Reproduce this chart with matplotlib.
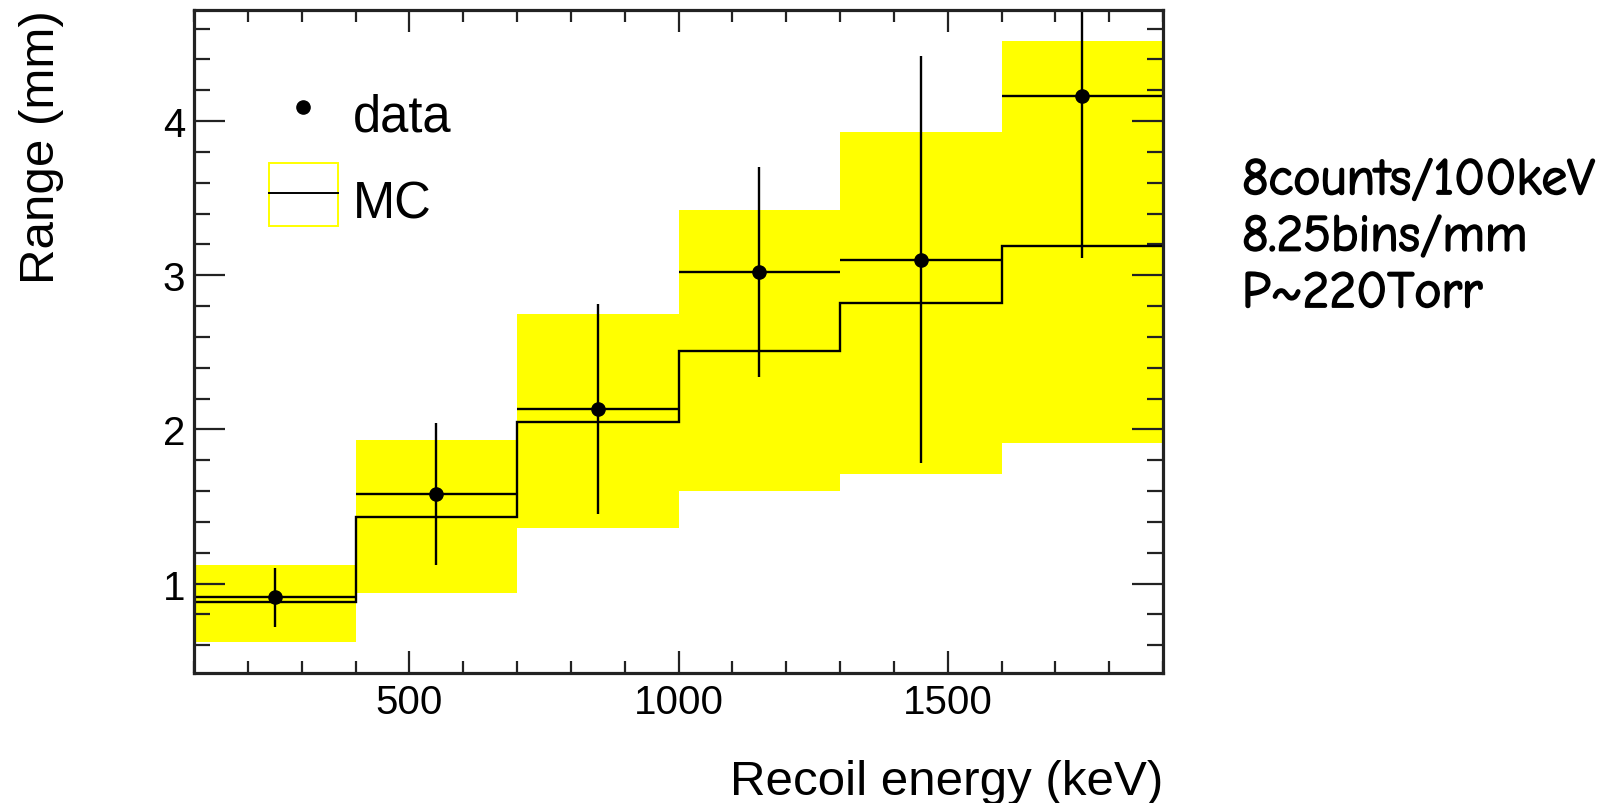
import numpy as np
import matplotlib
matplotlib.use("Agg")
import matplotlib.pyplot as plt
import matplotlib.patheffects as pe
from matplotlib.patches import Rectangle
from matplotlib.lines import Line2D
from matplotlib.ticker import MultipleLocator

# Recoil energy bins (keV)
bin_edges = [100, 400, 700, 1000, 1300, 1600, 1900]
bin_centers = [250, 550, 850, 1150, 1450, 1750]
bin_half_width = [150, 150, 150, 150, 150, 150]

# Measured range (mm) with uncertainties
data_range = [0.91, 1.58, 2.13, 3.02, 3.10, 4.16]
data_err = [0.19, 0.46, 0.68, 0.68, 1.32, 1.05]

# Simulated range (mm): central value and uncertainty band
mc_range = [0.88, 1.43, 2.05, 2.51, 2.82, 3.19]
mc_band_low = [0.62, 0.94, 1.36, 1.60, 1.71, 1.91]
mc_band_high = [1.12, 1.93, 2.75, 3.42, 3.93, 4.52]

annotation_lines = ["8counts/100keV", "8.25bins/mm", "P~220Torr"]

plt.rcParams["font.family"] = ["Liberation Sans", "DejaVu Sans"]

W, H = 1622, 804
fig = plt.figure(figsize=(W / 100, H / 100), dpi=100)
ax_l, ax_r, ax_t, ax_b = 194, 1163, 11, 674
ax = fig.add_axes([ax_l / W, 1 - ax_b / H, (ax_r - ax_l) / W, (ax_b - ax_t) / H])

YELLOW = "#ffff00"

# MC uncertainty band and central histogram
ax.stairs(mc_band_high, bin_edges, baseline=mc_band_low, fill=True,
          color=YELLOW, linewidth=0, zorder=1)
ax.stairs(mc_range, bin_edges, baseline=None, color="black",
          linewidth=1.7, zorder=2)

# Data points
ax.errorbar(bin_centers, data_range, xerr=bin_half_width, yerr=data_err,
            fmt="o", color="black", ms=9.5, elinewidth=1.7, capsize=0,
            zorder=3)

ax.set_xlim(100, 1900)
ax.set_ylim(0.42, 4.72)

ax.xaxis.set_major_locator(MultipleLocator(500))
ax.xaxis.set_minor_locator(MultipleLocator(100))
ax.yaxis.set_major_locator(MultipleLocator(1))
ax.yaxis.set_minor_locator(MultipleLocator(0.2))

ax.tick_params(axis="both", which="both", direction="in", top=True,
               right=True, width=1.6, color="#222222")
ax.tick_params(axis="x", which="major", length=15.8, labelsize=29, pad=7)
ax.tick_params(axis="x", which="minor", length=8.6)
ax.tick_params(axis="y", which="major", length=22, labelsize=29, pad=6.5)
ax.tick_params(axis="y", which="minor", length=11.3)
for s in ax.spines.values():
    s.set_linewidth(2.3)
    s.set_color("#222222")
    s.set_zorder(5)

# Axis titles, right-aligned at the axis ends
fig.text(ax_r / W, 1 - 795 / H, "Recoil energy (keV)", ha="right",
         va="baseline", fontsize=35.5)
fig.text(19 / W, 1 - 10 / H, "Range (mm)", rotation=90, ha="left",
         va="top", fontsize=35.5)

# Legend keys
axw, axh = ax_r - ax_l, ax_b - ax_t
def ax_xy(px, py):
    return (px - ax_l) / axw, (ax_b - py) / axh

mx, my = ax_xy(303, 108)
ax.add_line(Line2D([mx], [my], marker="o", ms=9.5, color="black",
                   transform=ax.transAxes, clip_on=False))
tx, ty = ax_xy(353, 131.5)
ax.text(tx, ty, "data", transform=ax.transAxes, fontsize=36.5,
        va="baseline", ha="left")

bx0, by0 = ax_xy(269, 227)
bx1, by1 = ax_xy(338, 164)
ax.add_patch(Rectangle((bx0, by0), bx1 - bx0, by1 - by0, fill=False,
                       edgecolor=YELLOW, linewidth=1.4,
                       transform=ax.transAxes))
lx0, ly = ax_xy(269, 194)
lx1, _ = ax_xy(338, 194)
ax.add_line(Line2D([lx0, lx1], [ly, ly], color="black", linewidth=1.4,
                   transform=ax.transAxes))
tx, ty = ax_xy(353, 218.5)
ax.text(tx, ty, "MC", transform=ax.transAxes, fontsize=36.5,
        va="baseline", ha="left")

# Run conditions
for i, line in enumerate(annotation_lines):
    fig.text(1242 / W, 1 - (195 + 56.5 * i) / H, line, ha="left",
             va="baseline", fontsize=37,
             family=["Comic Neue", "Open Sans", "DejaVu Sans"],
             path_effects=[pe.withStroke(linewidth=1.3, foreground="black")])

fig.savefig("out.png", dpi=100)
